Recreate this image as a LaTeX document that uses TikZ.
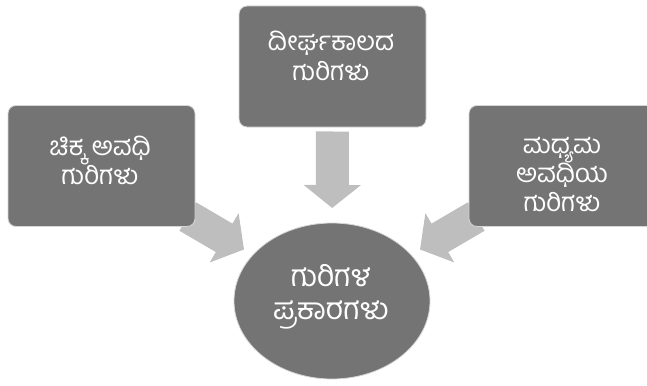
\documentclass[tikz,border=0pt]{standalone}
\usepackage{fontspec}
\newfontfamily\kn[Script=Kannada]{Hind Mysuru}
\usetikzlibrary{arrows.meta,shapes.geometric,backgrounds}
\definecolor{boxgray}{HTML}{747474}
\definecolor{arrowgray}{HTML}{BEBEBE}
\definecolor{edgegray}{HTML}{D6D6D6}
\tikzset{
  goalbox/.style={rectangle, rounded corners=8pt, fill=boxgray, draw=edgegray, line width=0.8pt,
    minimum width=187pt, minimum height=121pt},
  goalcircle/.style={ellipse, fill=boxgray, draw=edgegray, line width=0.8pt,
    minimum width=196pt, minimum height=156pt},
  boxtext/.style={text=white, align=center, inner sep=0pt,
    font=\kn\fontsize{26}{29}\selectfont},
  bigarrow/.style={draw=arrowgray, line width=33pt, -{Triangle[length=23pt,width=56pt]}}
}
\begin{document}
\begin{tikzpicture}[x=1pt,y=-1pt]
\useasboundingbox (0,0) rectangle (647,385);
\node[goalbox] (top) at (332.5,66.5) {};
\node[goalbox] (left) at (101.5,166) {};
\node[goalbox] (right) at (562.5,166) {};
\node[goalcircle] (goal) at (332,301) {};
\node[boxtext, font=\kn\fontsize{26}{30}\selectfont] (toptext) at (331,56) {ದೀರ್ಘಕಾಲದ\\ಗುರಿಗಳು};
\node[boxtext] (lefttext) at (100,160) {ಚಿಕ್ಕ ಅವಧಿ\\ಗುರಿಗಳು};
\node[boxtext] (righttext) at (562,175) {ಮಧ್ಯಮ\\ಅವಧಿಯ\\ಗುರಿಗಳು};
\node[boxtext, font=\kn\fontsize{30}{33}\selectfont] (goaltext) at (331,297) {ಗುರಿಗಳ\\ಪ್ರಕಾರಗಳು};
\begin{scope}[on background layer]
\draw[bigarrow, shorten <=65pt, shorten >=93pt] (top.center) -- (goal.center);
\draw[bigarrow, shorten <=100pt, shorten >=102pt] (left.center) -- (goal.center);
\draw[bigarrow, shorten <=100pt, shorten >=102pt] (right.center) -- (goal.center);
\end{scope}
\end{tikzpicture}
\end{document}
